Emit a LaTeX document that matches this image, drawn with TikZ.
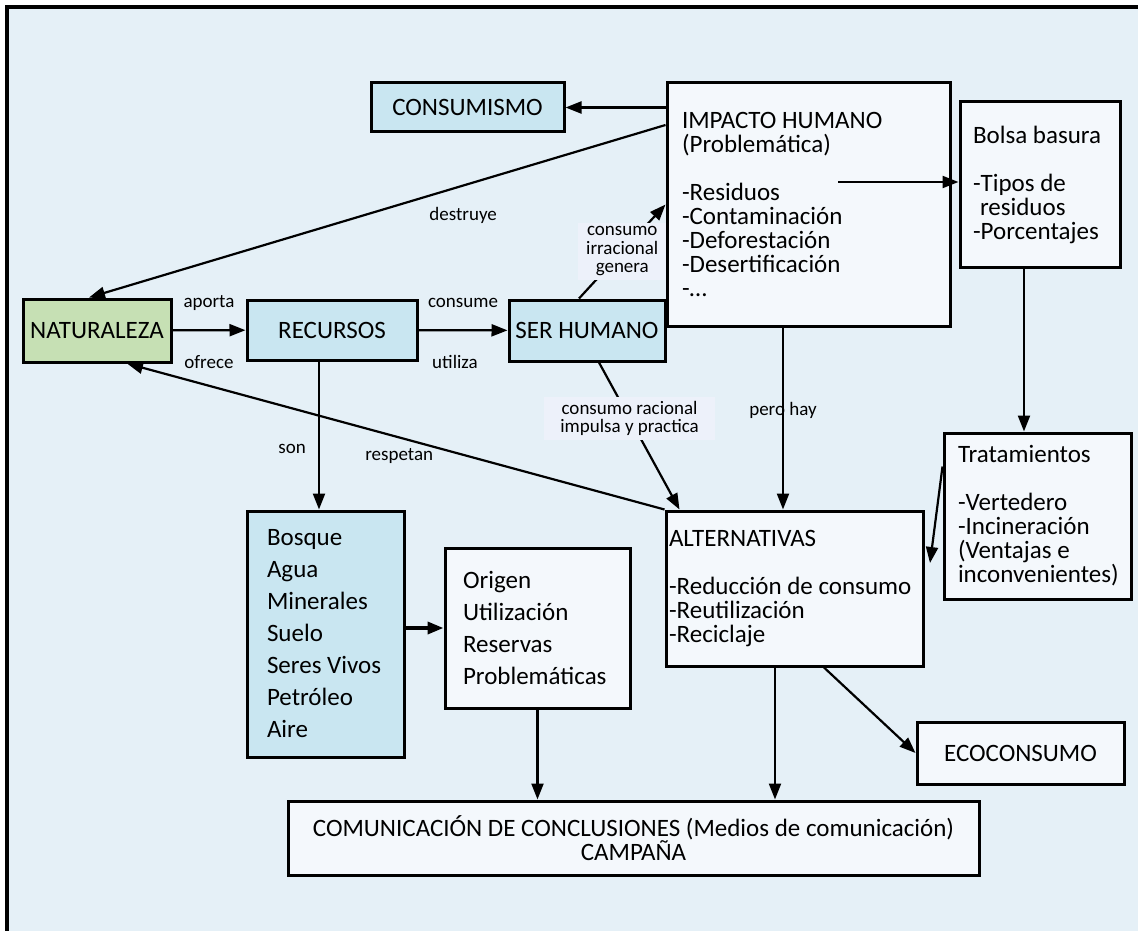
\documentclass[tikz,border=0pt]{standalone}
\usepackage{fontspec}
\setmainfont{Carlito}
\usetikzlibrary{arrows.meta}
\usetikzlibrary{positioning}
\definecolor{fondo}{HTML}{E5F0F7}
\definecolor{azul}{HTML}{C9E6F1}
\definecolor{verde}{HTML}{C6E0B4}
\definecolor{claro}{HTML}{F4F8FC}
\definecolor{etiq}{HTML}{EDF1FA}
\tikzset{
  caja/.style={draw=black,line width=3pt,fill=claro,inner sep=0pt,font=\fontsize{25}{24}\selectfont},
  flecha/.style={line width=2.2pt,-{Triangle[length=16pt,width=12pt]}},
  linea/.style={line width=2.2pt},
  etiqueta/.style={font=\fontsize{19}{18.5}\selectfont,align=center,inner sep=2pt},
}

\begin{document}
\begin{tikzpicture}[x=1pt,y=-1pt]
\useasboundingbox (0,0) rectangle (1138,931);
\fill[fondo] (7,7) rectangle (1145,940);
\draw[line width=3.5pt] (7,940) -- (7,7) -- (1145,7);

\node[caja,fill=verde,minimum width=148pt,minimum height=63pt] (naturaleza) at (97,330.5) {NATURALEZA};
\node[caja,fill=azul,minimum width=170pt,minimum height=60pt] (recursos) at (332,330) {RECURSOS};
\node[caja,fill=azul,minimum width=156pt,minimum height=61pt] (serhumano) at (587,330.5) {SER HUMANO};
\node[caja,fill=azul,minimum width=193pt,minimum height=49pt] (consumismo) at (467.5,107.5) {CONSUMISMO};
\node[caja,inner xsep=15pt,text width=253pt,minimum height=243pt,align=flush left] (impacto) at (808.5,204.5)
  {IMPACTO HUMANO\\(Problemática)\\[24pt]-Residuos\\-Contaminación\\-Deforestación\\-Desertificación\\-…};
\node[caja,inner xsep=13pt,text width=134pt,minimum height=165pt,align=flush left] (bolsa) at (1040,184.5)
  {Bolsa basura\\[24pt]-Tipos de\\\hspace*{7pt}residuos\\-Porcentajes};
\node[caja,inner xsep=14pt,text width=159pt,minimum height=166pt,align=flush left] (tratam) at (1037.5,516)
  {Tratamientos\\[24pt]-Vertedero\\-Incineración\\(Ventajas e\\inconvenientes)};
\node[caja,inner xsep=3pt,text width=251pt,minimum height=155pt,align=flush left] (alternat) at (794.5,588.5)
  {ALTERNATIVAS\\[24pt]-Reducción de consumo\\-Reutilización\\-Reciclaje};
\node[caja,fill=azul,inner xsep=20pt,text width=117pt,minimum height=246pt,align=flush left,font=\fontsize{25}{32}\selectfont] (bosque) at (325.5,634)
  {Bosque\\Agua\\Minerales\\Suelo\\Seres Vivos\\Petróleo\\Aire};
\node[caja,inner xsep=18pt,text width=149pt,minimum height=160pt,align=flush left,font=\fontsize{25}{32}\selectfont] (origen) at (537.5,628)
  {Origen\\Utilización\\Reservas\\Problemáticas};
\node[caja,minimum width=207pt,minimum height=62pt] (ecoconsumo) at (1020.5,753) {ECOCONSUMO};
\node[caja,minimum width=691pt,minimum height=74pt,align=center] (comunic) at (633.5,838)
  {COMUNICACIÓN DE CONCLUSIONES (Medios de comunicación)\\CAMPAÑA};

\coordinate (impmedio) at (838,182);
\coordinate (alterpunta) at (930,563);

\draw[flecha] (naturaleza) -- node[etiqueta,anchor=base,yshift=23pt]{aporta} node[etiqueta,anchor=base,yshift=-38pt]{ofrece} (recursos);
\draw[flecha] (recursos) -- node[etiqueta,anchor=base,yshift=23pt]{consume} node[etiqueta,anchor=base,xshift=-8pt,yshift=-38pt]{utiliza} (serhumano);
\draw[flecha] (consumismo.east -| impacto.west) -- (consumismo.east);
\draw[flecha] ([shift={(0,-79.5)}]impacto.west) -- node[etiqueta,pos=0.351,anchor=base,yshift=-35pt]{destruye} ([xshift=-8pt]naturaleza.north);
\draw[flecha] ([xshift=-8pt]serhumano.north) -- node[etiqueta,fill=etiq,inner xsep=8pt,inner ysep=4pt]{consumo\\irracional\\genera} (impacto.west);
\draw[flecha] ([xshift=12pt]serhumano.south) -- node[etiqueta,pos=0.38,fill=etiq,inner xsep=16pt,inner ysep=4pt]{consumo racional\\impulsa y practica} ([xshift=15pt]alternat.north west);
\draw[flecha] ([xshift=-25.5pt]impacto.south) -- node[etiqueta,pos=0.486,anchor=base]{pero hay} ([xshift=-11.5pt]alternat.north);
\draw[flecha] (impmedio) -- (impmedio -| bolsa.west);
\draw[flecha] ([xshift=-16pt]bolsa.south) -- ([xshift=-16pt]bolsa.south |- tratam.north);
\draw[flecha] ([shift={(0,35)}]tratam.north west) -- (alterpunta);
\draw[flecha] ([xshift=-13pt]recursos.south) -- node[etiqueta,pos=0.62,anchor=base east,xshift=-10pt]{son} ([xshift=-13pt]recursos.south |- bosque.north);
\draw[flecha] (alternat.north west) -- node[etiqueta,pos=0.4935,anchor=base,yshift=-23.5pt]{respetan} ([xshift=30pt]naturaleza.south);
\draw[flecha,line width=3.5pt] (bosque.east |- origen.west) -- (origen.west);
\draw[flecha] (origen.south) -- (origen.south |- comunic.north);
\draw[flecha] ([xshift=-19.5pt]alternat.south) -- ([xshift=-19.5pt]alternat.south |- comunic.north);
\draw[flecha] ([xshift=29.5pt]alternat.south) -- (ecoconsumo.west);

\end{tikzpicture}
\end{document}
